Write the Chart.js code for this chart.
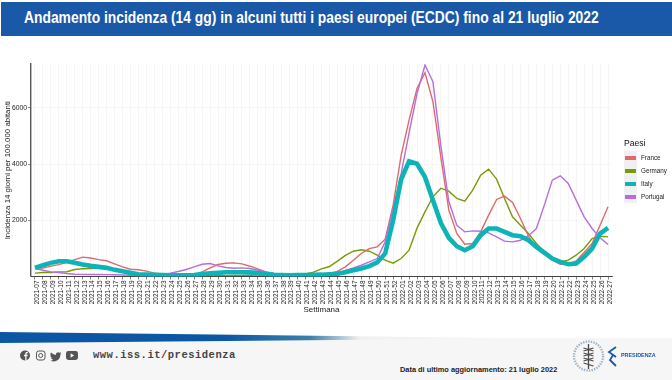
<!DOCTYPE html>
<html>
<head>
    <title>Andamento incidenza</title>
    <style>
        html, body { margin: 0; padding: 0; width: 672px; height: 380px; overflow: hidden; background: #fff; font-family: 'Liberation Sans', Arial, sans-serif; }
        .abs { position: absolute; }
        #banner { left: 1px; top: 2px; width: 671px; height: 34px; background: #1a58a8; }
        #title { left: 24px; top: 8px; color: #fff; font-weight: bold; font-size: 17.1px; line-height: 20px; white-space: nowrap; transform: scaleX(0.81); transform-origin: left; }
        #footer { left: 0; top: 338px; width: 672px; height: 42px; background: #f6f6f6; }
        #strip { left: 0; top: 332px; width: 500px; height: 11px; background: linear-gradient(to right, #0b57a6 0%, #0b57a6 45%, #3d7fa8 62%, #f0f0f0 72%, #f6f6f6 100%); clip-path: polygon(0 0, 100% 55%, 100% 60%, 0 100%); }
        #site { left: 93px; top: 349px; font-family: 'Liberation Mono', monospace; font-weight: bold; font-size: 10.5px; letter-spacing: 0.5px; color: #444; white-space: nowrap; }
        #updated { left: 400px; top: 365px; font-weight: bold; font-size: 7.4px; color: #222; white-space: nowrap; }
        #presidenza { left: 621px; top: 352px; font-weight: bold; font-size: 5.4px; color: #1a58a8; white-space: nowrap; }
        #chart { left: 0; top: 0; }
        #legend { left: 624px; top: 137px; }
        #legend .head { font-size: 8.6px; color: #111; height: 14px; line-height: 12px; }
        #legend .row { position: relative; height: 13px; width: 48px; font-size: 6.3px; line-height: 13px; color: #222; padding-left: 17px; box-sizing: border-box; white-space: nowrap; }
        #legend .key { position: absolute; left: 0; top: 0; width: 13px; height: 13px; background: #f0f0f0; }
        #legend .key i { position: absolute; left: 1px; top: 4.5px; width: 11px; height: 4px; display: block; }
    </style>
    <script src="https://cdn.jsdelivr.net/npm/chart.js"></script>
</head>
<body>
    <div id="banner" class="abs"></div>
    <div id="title" class="abs">Andamento incidenza (14 gg) in alcuni tutti i paesi europei (ECDC) fino al 21 luglio 2022</div>
    <canvas id="chart" class="abs" width="672" height="330"></canvas>
    <div id="legend" class="abs"></div>
    <div id="footer" class="abs"></div>
    <div id="strip" class="abs"></div>
    <svg class="abs" style="left:18px;top:348px" width="62" height="16" viewBox="0 0 62 16">
        <circle cx="7" cy="7.5" r="5" fill="#555"/>
        <path d="M7.2 12.5V8.2H6V6.8h1.2V5.8c0-1.2.7-1.8 1.8-1.8h.9v1.3h-.7c-.5 0-.7.3-.7.7v.8h1.3l-.2 1.4H8.5v4.3z" fill="#f6f6f6"/>
        <rect x="18.5" y="3" width="8.5" height="9" rx="2.2" fill="none" stroke="#555" stroke-width="1"/>
        <circle cx="22.7" cy="7.5" r="2" fill="none" stroke="#555" stroke-width="1"/>
        <path d="M33 4.5c1.8 1.6 3.4 2.3 5 2.3-.3-2 2-3.4 3.5-2l1.6-.6-.9 1.5 1.2-.3-1 1.2c0 4-3 6.8-6.3 6.8-1.5 0-2.7-.4-3.6-1 1.1.1 2.3-.2 3-.9-1.2 0-2-.7-2.3-1.6h1c-1.2-.4-1.9-1.3-1.9-2.4l1 .3c-1-.7-1.3-1.9-.3-3.3z" fill="#555"/>
        <rect x="48" y="3" width="12" height="9" rx="2.4" fill="#555"/>
        <path d="M52.6 5.3l3.6 2.2-3.6 2.2z" fill="#f6f6f6"/>
    </svg>
    <div id="site" class="abs">www.iss.it/presidenza</div>
    <div id="updated" class="abs">Data di ultimo aggiornamento: 21 luglio 2022</div>
    <svg class="abs" style="left:570px;top:338px" width="50" height="36" viewBox="0 0 50 36">
        <circle cx="18.5" cy="18" r="14.5" fill="none" stroke="#9fb4c8" stroke-width="2.4" stroke-dasharray="1.4 1.2"/>
        <path d="M18.5 6v25M13.5 10l10 3M13.5 15l10 3M13.5 20l10 3M13.5 25l10 3M23.5 10l-10 3M23.5 15l-10 3M23.5 20l-10 3" stroke="#4a4a4a" stroke-width="1.3" fill="none"/>
        <path d="M46 9l-7 5 7 5M43 17l-3 5 6 6" stroke="#1a58a8" stroke-width="1.8" fill="none"/>
    </svg>
    <div id="presidenza" class="abs">PRESIDENZA</div>

    <script>
        const weeks = [
            '2021-07','2021-08','2021-09','2021-10','2021-11','2021-12','2021-13','2021-14','2021-15','2021-16',
            '2021-17','2021-18','2021-19','2021-20','2021-21','2021-22','2021-23','2021-24','2021-25','2021-26',
            '2021-27','2021-28','2021-29','2021-30','2021-31','2021-32','2021-33','2021-34','2021-35','2021-36',
            '2021-37','2021-38','2021-39','2021-40','2021-41','2021-42','2021-43','2021-44','2021-45','2021-46',
            '2021-47','2021-48','2021-49','2021-50','2021-51','2021-52','2022-01','2022-02','2022-03','2022-04',
            '2022-05','2022-06','2022-07','2022-08','2022-09','2022-10','2022-11','2022-12','2022-13','2022-14',
            '2022-15','2022-16','2022-17','2022-18','2022-19','2022-20','2022-21','2022-22','2022-23','2022-24',
            '2022-25','2022-26','2022-27'
        ];
        const yTicks = [2000, 4000, 6000];
        const countries = ['France', 'Germany', 'Italy', 'Portugal'];
        const colors = ['#e0696c', '#7a9a05', '#0cb4b8', '#b46ee0'];

        const france = [
            290,300,370,420,500,600,690,660,600,560,450,340,260,240,190,120,90,60,50,50,
            60,165,307,425,473,485,449,366,271,164,105,60,55,55,60,70,80,110,180,342,
            579,817,994,1054,1327,2538,4300,5560,6690,7250,6215,4240,2360,1529,1149,1172,1588,2182,2740,2858,
            2632,2063,1440,994,781,579,437,437,555,852,1172,1825,2478
        ];
        const germany = [
            120,140,140,165,170,250,275,283,310,300,230,170,120,80,60,40,35,30,30,30,
            30,30,30,30,30,35,40,45,50,50,50,55,55,60,95,155,270,355,545,750,
            900,950,900,758,580,473,640,936,1720,2300,2835,3140,3036,2775,2680,3072,3606,3820,3463,2775,
            2122,1825,1530,1172,876,638,520,580,757,994,1350,1434,1410
        ];
        const italy = [
            307,402,485,544,544,485,425,378,342,307,236,188,129,81,70,60,50,45,40,40,
            50,85,110,130,150,150,150,145,120,90,60,50,45,50,55,60,65,80,100,150,
            220,285,367,500,820,2000,3450,4100,4010,3540,2710,1900,1375,1077,935,1077,1470,1707,1707,1588,
            1470,1434,1290,1054,852,638,520,437,460,698,994,1529,1730
        ];
        const portugal = [
            280,224,165,140,105,80,75,70,70,65,60,55,45,35,30,35,70,120,178,248,
            342,437,461,378,319,295,307,283,224,164,105,70,50,45,45,50,60,70,110,220,
            306,401,520,638,1230,2420,3650,5100,6500,7520,6930,4640,2656,1825,1588,1624,1612,1552,1410,1256,
            1232,1290,1450,1707,2538,3428,3582,3309,2716,2122,1707,1375,1137
        ];
        const series = [france, germany, italy, portugal];
        const widths = [1.4, 1.4, 4.6, 1.4];
        const drawOrder = [2, 3, 0, 1]; // Italy sits on top of the others

        const legendEl = document.getElementById('legend');
        legendEl.innerHTML = '<div class="head">Paesi</div>' + countries.map((name, i) =>
            `<div class="row"><span class="key"><i style="background:${colors[i]}"></i></span>${name}</div>`).join('');

        new Chart(document.getElementById('chart'), {
            type: 'line',
            data: {
                labels: weeks,
                datasets: countries.map((name, i) => ({
                    label: name,
                    data: series[i],
                    borderColor: colors[i],
                    backgroundColor: colors[i],
                    borderWidth: widths[i],
                    pointRadius: 0,
                    tension: 0,
                    order: drawOrder[i]
                }))
            },
            options: {
                responsive: false,
                animation: false,
                layout: { padding: { top: 64, right: 60, bottom: 15, left: 3 } },
                plugins: { legend: { display: false }, tooltip: { enabled: false } },
                scales: {
                    x: {
                        offset: true,
                        afterFit: (scale) => { scale.height = 38.5; },
                        grid: { color: '#f0f0f0', lineWidth: 0.6, tickColor: '#333', tickLength: 3, drawOnChartArea: true },
                        border: { color: '#444', width: 1 },
                        ticks: {
                            autoSkip: false, maxRotation: 90, minRotation: 90, labelOffset: 2,
                            font: { size: 6.5, family: "'Liberation Sans', Arial" }, color: '#222', padding: 1
                        },
                        title: {
                            display: true, text: 'Settimana',
                            font: { size: 8, family: "'Liberation Sans', Arial" }, color: '#222', padding: { top: 0, bottom: 0 }
                        }
                    },
                    y: {
                        min: 0,
                        max: 7558,
                        afterBuildTicks: (scale) => { scale.ticks = yTicks.map(v => ({ value: v })); },
                        afterFit: (scale) => { scale.width = 28; },
                        grid: { color: '#f2f2f2', lineWidth: 0.6, tickColor: '#333', tickLength: 3 },
                        border: { color: '#555', width: 1.4 },
                        ticks: {
                            font: { size: 6.8, family: "'Liberation Sans', Arial" }, color: '#222', padding: 1,
                            callback: (v) => String(v)
                        },
                        title: {
                            display: true, text: 'Incidenza 14 giorni per 100.000 abitanti',
                            font: { size: 7.9, family: "'Liberation Sans', Arial" }, color: '#222', padding: 0
                        }
                    }
                }
            }
        });
    </script>
</body>
</html>
